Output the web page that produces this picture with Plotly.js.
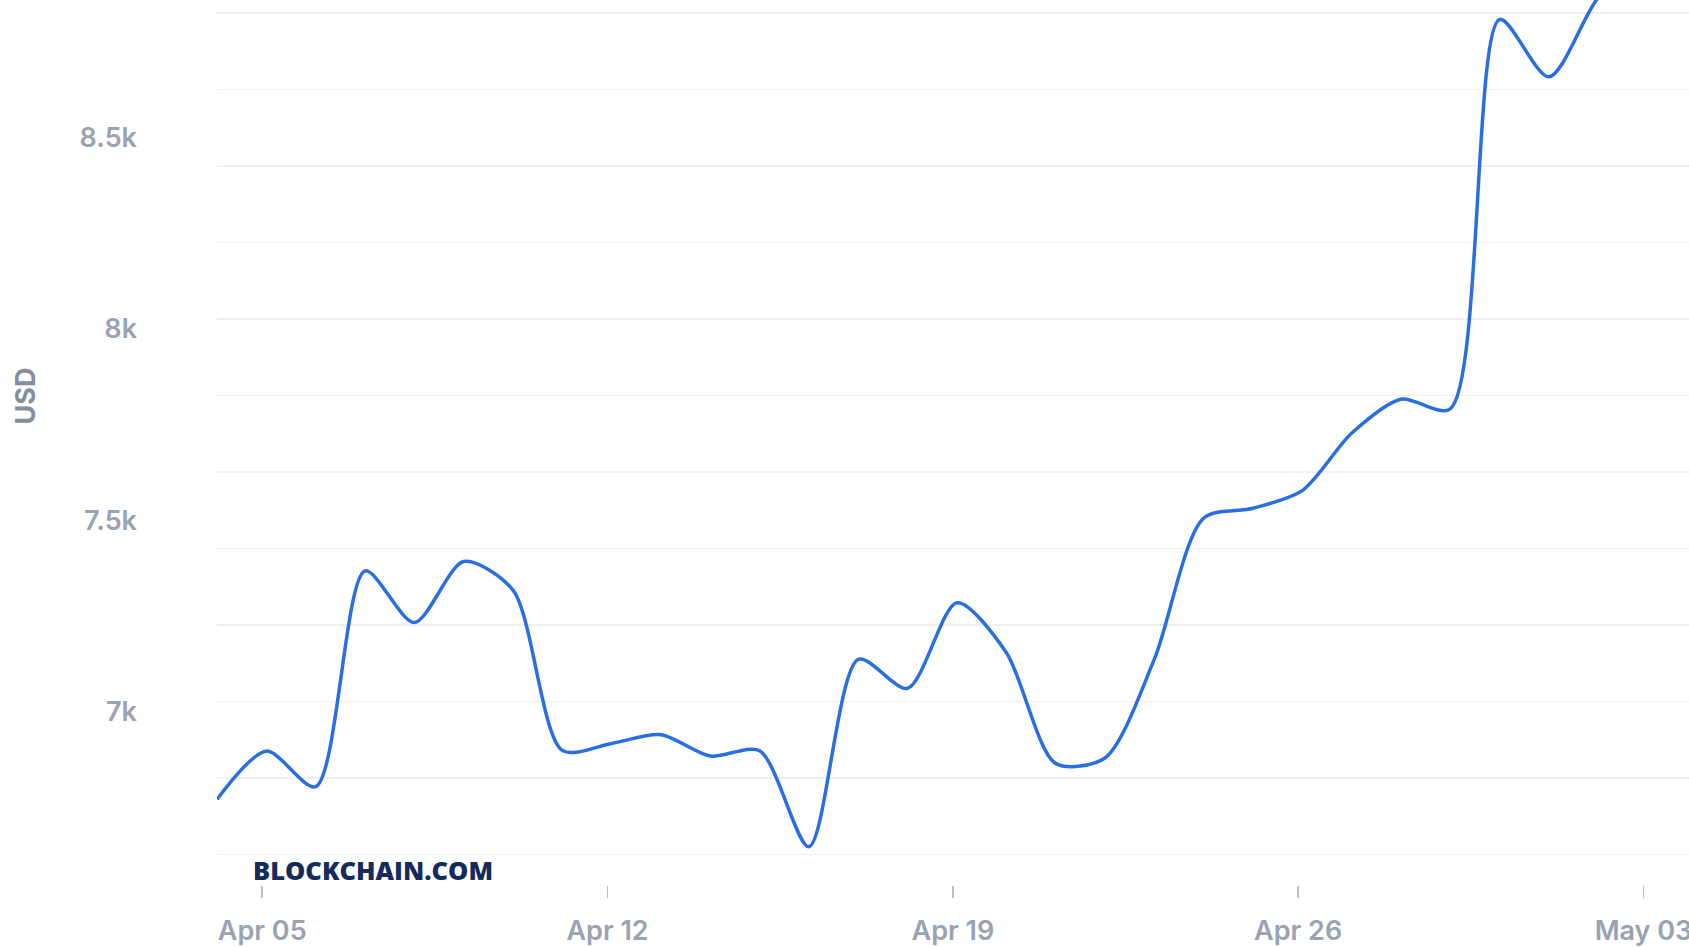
<!DOCTYPE html>
<html>
<head>
<meta charset="utf-8">
<script src="https://cdn.plot.ly/plotly-3.0.1.min.js"></script>
<style>
  html, body { margin: 0; padding: 0; background: #ffffff; overflow: hidden; width: 1689px; height: 947px; }
  #chart { position: absolute; left: 0; top: -93px; width: 1689px; height: 1070px; }
</style>
</head>
<body>
<div id="chart"></div>
<script>
// Daily market price (USD)
const dates = [
  '2020-04-04 02:00', '2020-04-05 02:00', '2020-04-06 02:00', '2020-04-07 02:00', '2020-04-08 02:00',
  '2020-04-09 02:00', '2020-04-10 02:00', '2020-04-11 02:00', '2020-04-12 02:00', '2020-04-13 02:00',
  '2020-04-14 02:00', '2020-04-15 02:00', '2020-04-16 02:00', '2020-04-17 02:00', '2020-04-18 02:00',
  '2020-04-19 02:00', '2020-04-20 02:00', '2020-04-21 02:00', '2020-04-22 02:00', '2020-04-23 02:00',
  '2020-04-24 02:00', '2020-04-25 02:00', '2020-04-26 02:00', '2020-04-27 02:00', '2020-04-28 02:00',
  '2020-04-29 02:00', '2020-04-30 02:00', '2020-05-01 02:00', '2020-05-02 02:00', '2020-05-03 02:00'
];
const prices = [
  6744, 6870, 6777, 7341, 7206,
  7366, 7291, 6872, 6890, 6913,
  6857, 6871, 6620, 7110, 7034,
  7258, 7128, 6838, 6852, 7110,
  7479, 7505, 7551, 7701, 7790,
  7765, 8783, 8633, 8840, 8950
];
const yTickVals = [7000, 7500, 8000, 8500];
const yTickText = ['7k', '7.5k', '8k', '8.5k'];
const xRange = ['2020-04-04 02:00', '2020-05-03 22:10'];
const yRange = [6520, 9077];
const yAxisTitle = 'USD';
const watermark = 'BLOCKCHAIN.COM';

const tickFont = { family: 'Inter, "Noto Sans", sans-serif', size: 27, color: '#9ba2b2', weight: 600 };

const traces = [
  {
    x: dates, y: prices, type: 'scatter', mode: 'lines',
    line: { color: '#2a6fe2', width: 3.5, shape: 'spline', smoothing: 0.8 },
    hoverinfo: 'skip', xaxis: 'x', yaxis: 'y'
  },
  {
    x: dates, y: prices, type: 'scatter', mode: 'lines',
    line: { color: 'rgba(0,0,0,0)', width: 0 },
    hoverinfo: 'skip', xaxis: 'x', yaxis: 'y2', showlegend: false
  }
];

const layout = {
  width: 1689, height: 1070,
  margin: { l: 217, r: 0, t: 0, b: 92 },
  paper_bgcolor: '#ffffff', plot_bgcolor: '#ffffff',
  showlegend: false,
  xaxis: {
    type: 'date', range: xRange,
    tickmode: 'linear', tick0: '2020-04-05', dtick: 7 * 86400000, tickformat: '%b %d',
    ticks: 'outside', ticklen: 12, tickwidth: 1.5, tickcolor: '#b9bfcb',
    ticklabelstandoff: 10, ticklabeloverflow: 'allow',
    showgrid: false, zeroline: false, showline: false,
    tickfont: tickFont
  },
  yaxis: {
    range: yRange, tickmode: 'linear', tick0: 0, dtick: 200,
    showticklabels: false, ticks: '',
    showgrid: true, gridcolor: '#eef0f3', gridwidth: 1.3,
    zeroline: false, showline: false
  },
  yaxis2: {
    overlaying: 'y', side: 'left', range: yRange,
    tickmode: 'array', tickvals: yTickVals, ticktext: yTickText,
    ticks: '', ticklabelstandoff: 79, ticklabelshift: 10,
    showgrid: false, zeroline: false, showline: false,
    tickfont: tickFont,
    title: { text: yAxisTitle, standoff: 36,
             font: { family: 'Inter, "Noto Sans", sans-serif', size: 27, color: '#868d9d', weight: 700 } }
  },
  annotations: [
    {
      text: watermark, xref: 'paper', yref: 'paper', x: 0.0231, y: 0.0153,
      xanchor: 'left', yanchor: 'middle', showarrow: false,
      font: { family: '"Open Sans", sans-serif', size: 25.5, color: '#142b5c', weight: 800 }
    }
  ]
};

Plotly.newPlot('chart', traces, layout, { staticPlot: true, displayModeBar: false });
</script>
</body>
</html>
